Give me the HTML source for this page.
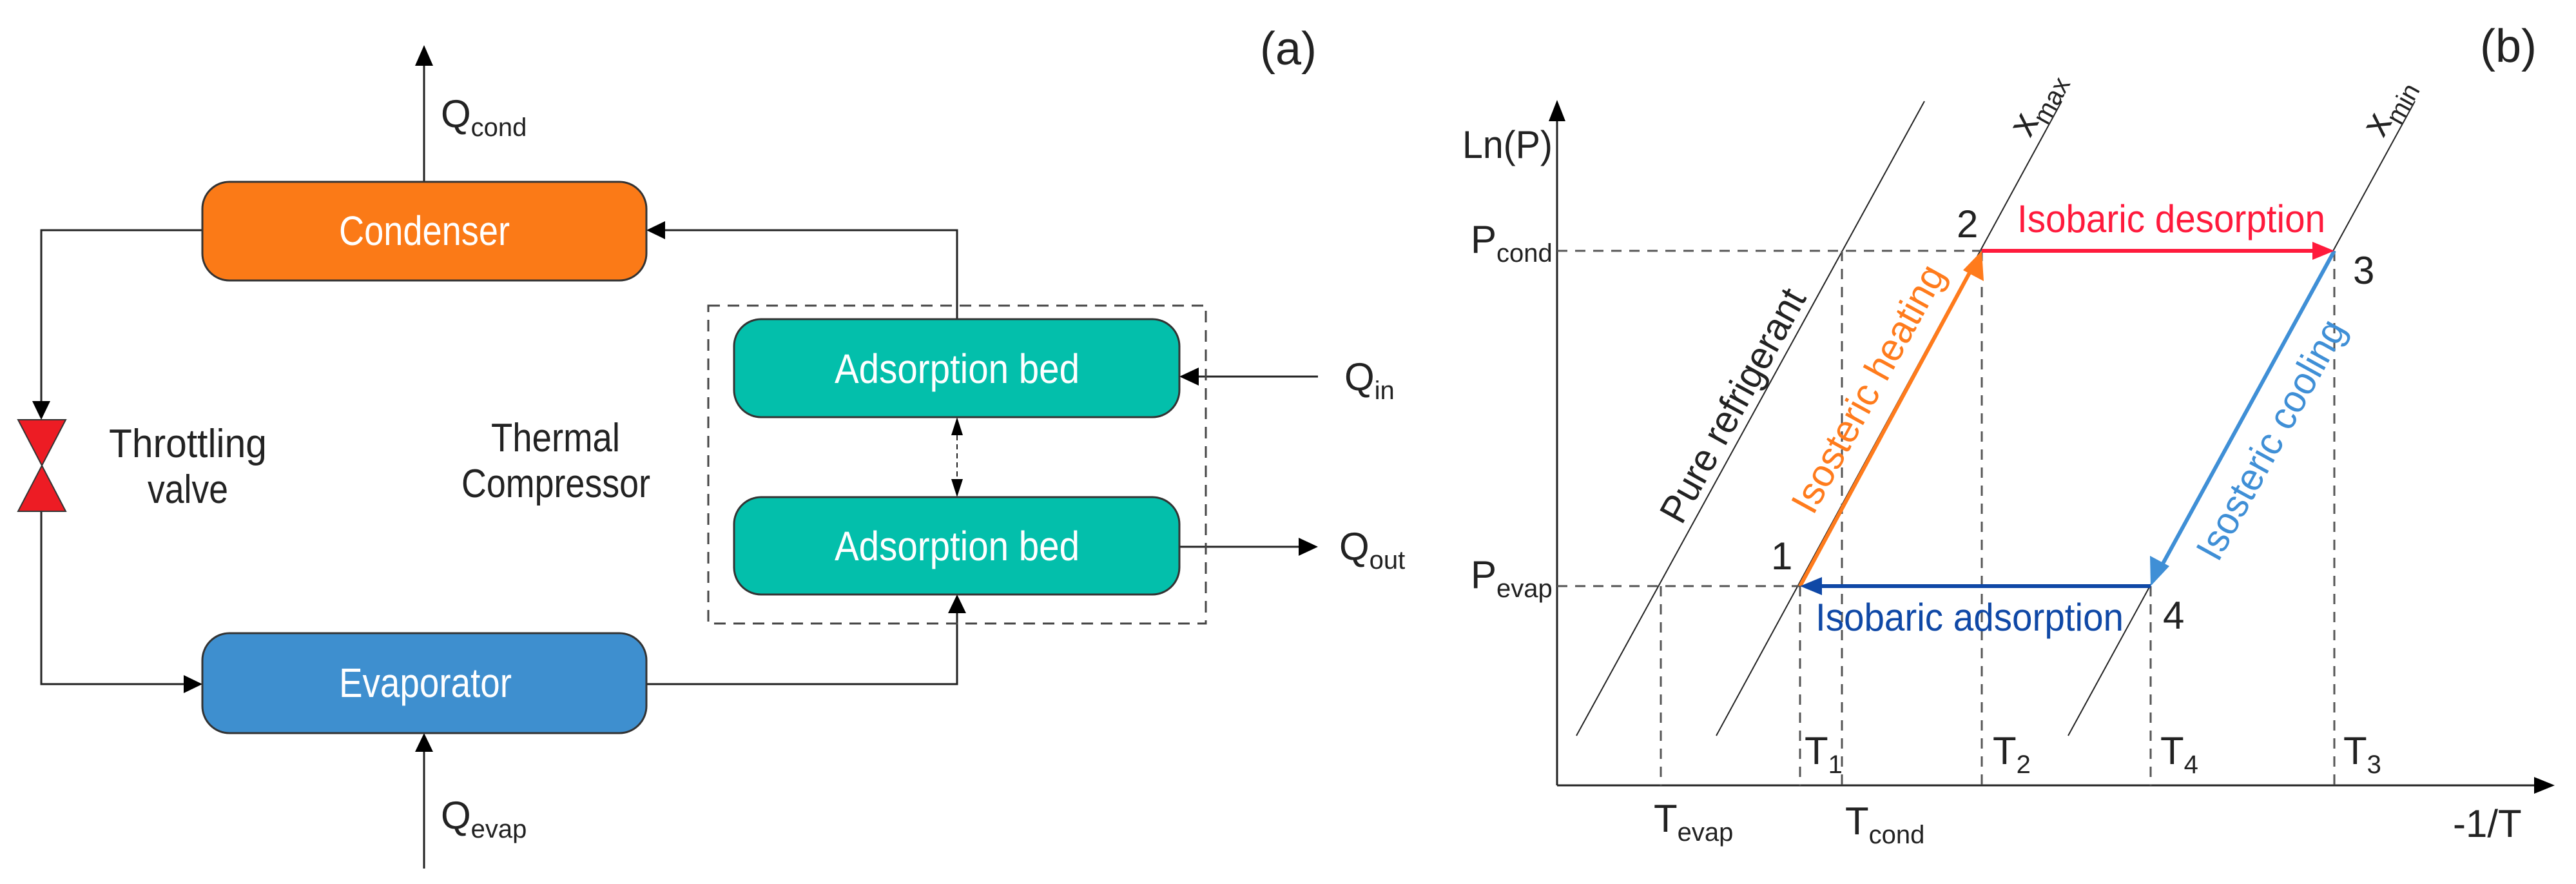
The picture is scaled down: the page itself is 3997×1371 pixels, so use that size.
<!DOCTYPE html>
<html><head><meta charset="utf-8"><style>
html,body{margin:0;padding:0;background:#fff;}
svg{display:block;}
text{font-family:"Liberation Sans",sans-serif;}
</style></head><body>
<svg width="3997" height="1371" viewBox="0 0 3997 1371" xmlns="http://www.w3.org/2000/svg">
<g stroke="#222" stroke-width="3" fill="none">
<line x1="658" y1="282" x2="658" y2="100"/>
<polyline points="314,357 64,357 64,622"/>
<polyline points="64,793 64,1061 285,1061"/>
<line x1="658" y1="1347" x2="658" y2="1166"/>
<polyline points="1003,1061 1485,1061 1485,951"/>
<polyline points="1485,495 1485,357 1032,357"/>
<line x1="2045" y1="584" x2="1860" y2="584"/>
<line x1="1830" y1="848" x2="2015" y2="848"/>
<line x1="1485" y1="675" x2="1485" y2="743" stroke-dasharray="8,6" stroke-width="2"/>
</g>
<g fill="#000">
<path d="M658,70 L644,102 L672,102z"/>
<path d="M64,651 L50,622 L78,622z"/>
<path d="M314,1061 L285,1047 L285,1075z"/>
<path d="M658,1137 L644,1166 L672,1166z"/>
<path d="M1485,922 L1471,951 L1499,951z"/>
<path d="M1003,357 L1032,343 L1032,371z"/>
<path d="M1830,584 L1860,570 L1860,598z"/>
<path d="M2045,848 L2015,834 L2015,862z"/>
<path d="M1485,647 L1476,675 L1494,675z"/>
<path d="M1485,771 L1476,743 L1494,743z"/>
</g>
<rect x="1099" y="474" width="772" height="493" fill="none" stroke="#444" stroke-width="3" stroke-dasharray="18,12"/>
<rect x="314" y="282" width="689" height="153" rx="42" fill="#fb7a17" stroke="#333" stroke-width="3"/>
<rect x="314" y="982" width="689" height="155" rx="42" fill="#3e8fcf" stroke="#333" stroke-width="3"/>
<rect x="1139" y="495" width="691" height="152" rx="42" fill="#03bfab" stroke="#333" stroke-width="3"/>
<rect x="1139" y="771" width="691" height="151" rx="42" fill="#03bfab" stroke="#333" stroke-width="3"/>
<g fill="#fff" font-size="64">
<text x="526" y="380" textLength="265" lengthAdjust="spacingAndGlyphs">Condenser</text>
<text x="526" y="1081" textLength="268" lengthAdjust="spacingAndGlyphs">Evaporator</text>
<text x="1295" y="594" textLength="380" lengthAdjust="spacingAndGlyphs">Adsorption bed</text>
<text x="1295" y="869" textLength="380" lengthAdjust="spacingAndGlyphs">Adsorption bed</text>
</g>
<path d="M28,651 L102,651 L65,722z M28,793 L102,793 L65,722z" fill="#ed1c24" stroke="#333" stroke-width="2"/>
<g fill="#222" font-size="62">
<text x="169" y="709" textLength="245" lengthAdjust="spacingAndGlyphs">Throttling</text>
<text x="229" y="780" textLength="125" lengthAdjust="spacingAndGlyphs">valve</text>
<text x="762" y="700" textLength="200" lengthAdjust="spacingAndGlyphs">Thermal</text>
<text x="716" y="771" textLength="293" lengthAdjust="spacingAndGlyphs">Compressor</text>
<text x="684" y="197" font-size="60">Q<tspan font-size="40" dy="14">cond</tspan></text>
<text x="684" y="1285" font-size="60">Q<tspan font-size="40" dy="14">evap</tspan></text>
<text x="2086" y="605" font-size="60">Q<tspan font-size="40" dy="14">in</tspan></text>
<text x="2078" y="868" font-size="60">Q<tspan font-size="40" dy="14">out</tspan></text>
<text x="1955" y="100" font-size="72">(a)</text>
<text x="3848" y="96" font-size="72">(b)</text>
</g>
<g stroke="#222" stroke-width="3" fill="none">
<line x1="2416" y1="1218" x2="2416" y2="185"/>
<line x1="2416" y1="1218" x2="3935" y2="1218"/>
<line x1="2446" y1="1141" x2="2986" y2="157" stroke-width="2"/>
<line x1="2663" y1="1141" x2="3199" y2="157" stroke-width="2"/>
<line x1="3209" y1="1141" x2="3747" y2="157" stroke-width="2"/>
</g>
<path d="M2416,155 L2403,188 L2429,188z M3964,1218 L3932,1205 L3932,1231z" fill="#000"/>
<g stroke="#555" stroke-width="3" stroke-dasharray="16,12" fill="none">
<line x1="2416" y1="389" x2="3075" y2="389"/>
<line x1="2416" y1="909" x2="2793" y2="909"/>
<line x1="2577" y1="909" x2="2577" y2="1218"/>
<line x1="2793" y1="909" x2="2793" y2="1218"/>
<line x1="2858" y1="389" x2="2858" y2="1218"/>
<line x1="3075" y1="389" x2="3075" y2="1218"/>
<line x1="3337" y1="909" x2="3337" y2="1218"/>
<line x1="3622" y1="389" x2="3622" y2="1218"/>
</g>
<g stroke-width="6" fill="none">
<line x1="2793" y1="909" x2="3062" y2="412" stroke="#ff7b1c"/>
<line x1="3075" y1="389" x2="3590" y2="389" stroke="#ff1a3c"/>
<line x1="3622" y1="389" x2="3350" y2="885" stroke="#3f8fd6"/>
<line x1="3337" y1="909" x2="2825" y2="909" stroke="#0f48a6"/>
</g>
<path d="M3075,389 L3078,436 L3046,419z" fill="#ff7b1c"/>
<path d="M3622,389 L3588,375 L3588,403z" fill="#ff1a3c"/>
<path d="M3337,909 L3336,862 L3366,878z" fill="#3f8fd6"/>
<path d="M2793,909 L2827,895 L2827,923z" fill="#0f48a6"/>
<g fill="#222" font-size="60">
<text x="2269" y="245" textLength="140" lengthAdjust="spacingAndGlyphs">Ln(P)</text>
<text x="2282" y="392">P<tspan font-size="40" dy="14">cond</tspan></text>
<text x="2282" y="912">P<tspan font-size="40" dy="14">evap</tspan></text>
<text x="3036" y="368">2</text>
<text x="3651" y="440">3</text>
<text x="2748" y="883">1</text>
<text x="3356" y="975">4</text>
<text x="2800" y="1185">T<tspan font-size="40" dy="14">1</tspan></text>
<text x="3092" y="1185">T<tspan font-size="40" dy="14">2</tspan></text>
<text x="3352" y="1185">T<tspan font-size="40" dy="14">4</tspan></text>
<text x="3636" y="1185">T<tspan font-size="40" dy="14">3</tspan></text>
<text x="2566" y="1290">T<tspan font-size="40" dy="14">evap</tspan></text>
<text x="2863" y="1294">T<tspan font-size="40" dy="14">cond</tspan></text>
<text x="3806" y="1298">-1/T</text>
<text x="3130" y="360" fill="#ff1a3c" textLength="478" lengthAdjust="spacingAndGlyphs">Isobaric desorption</text>
<text x="2817" y="978" fill="#0f48a6" textLength="478" lengthAdjust="spacingAndGlyphs">Isobaric adsorption</text>
<text transform="translate(2689,629) rotate(-61.2)" text-anchor="middle" y="20" textLength="404" lengthAdjust="spacingAndGlyphs">Pure refrigerant</text>
<text transform="translate(2899,603) rotate(-61.2)" text-anchor="middle" y="20" fill="#ff7b1c" textLength="429" lengthAdjust="spacingAndGlyphs">Isosteric heating</text>
<text transform="translate(3524,682) rotate(-61.2)" text-anchor="middle" y="20" fill="#3f8fd6" textLength="415" lengthAdjust="spacingAndGlyphs">Isosteric cooling</text>
<text transform="translate(3150,215) rotate(-61.2)" font-size="60">x<tspan font-size="40" dy="14">max</tspan></text>
<text transform="translate(3698,215) rotate(-61.2)" font-size="60">x<tspan font-size="40" dy="14">min</tspan></text>
</g>
</svg>
</body></html>
